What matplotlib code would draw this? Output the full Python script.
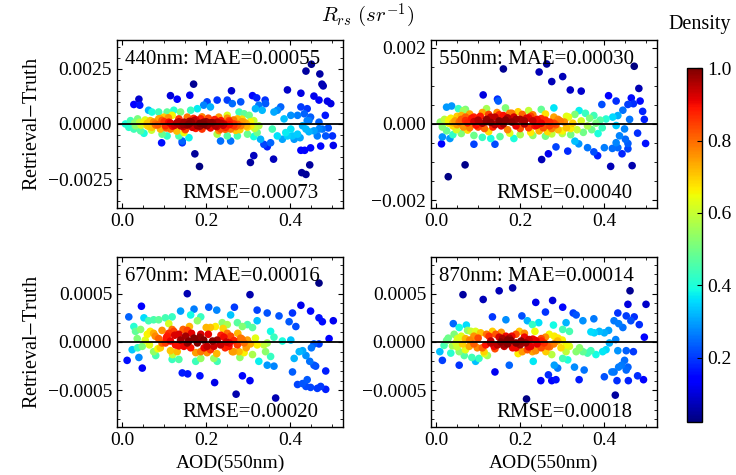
import numpy as np
import matplotlib
matplotlib.use("Agg")
import matplotlib.pyplot as plt
from matplotlib.ticker import AutoMinorLocator
from matplotlib.colors import Normalize

plt.rcParams['font.family'] = ['Liberation Serif', 'DejaVu Serif']
plt.rcParams['mathtext.fontset'] = 'stix'
plt.rcParams['axes.unicode_minus'] = True

bands = ["440nm", "550nm", "670nm", "870nm"]
mae_labels = ["0.00055", "0.00030", "0.00016", "0.00014"]
rmse_labels = ["0.00073", "0.00040", "0.00020", "0.00018"]

# ---------------- 440 nm : AOD, residual (x1e-4) ----------------
aod_440 = [0.040,0.028,0.042,0.094,0.115,0.131,0.170,0.173,0.184,0.161,0.143,0.260,0.310,0.320,0.313,0.305,0.360,0.340,0.393,0.425,0.437,0.450,0.470,0.475,0.478,0.456,0.468,0.488,0.496,0.483,0.440,0.444,0.468,0.490,0.500,0.502,0.427,0.437,0.446,0.425,0.434,0.448,0.472,0.464,0.423,0.405,
           0.008,0.016,0.020,0.028,0.032,0.037,0.044,0.042,0.052,0.063,0.071,
           0.052,0.060,0.067,0.071,0.079,0.087,0.091,0.099,0.103,0.111,0.115,0.119,0.107,0.123,0.095,0.107,0.087,
           0.135,0.139,0.147,0.151,0.155,0.159,0.167,0.171,0.179,0.187,0.190,0.194,0.202,0.139,0.147,0.163,0.179,0.194,0.202,0.210,0.135,0.159,0.143,
           0.222,0.226,0.234,0.242,0.246,0.254,0.258,0.266,0.274,0.282,0.290,0.298,0.230,0.250,0.278,0.290,0.302,0.226,0.250,0.234,0.258,0.274,0.298,0.262,0.282,0.226,0.250,
           0.306,0.313,0.317,0.325,0.333,0.341,0.321,0.329,0.337,0.345,0.353,0.361,0.369,0.377,0.357,0.369,0.381,0.389,0.385,0.313,0.325,
           0.393,0.401,0.409,0.417,0.429,0.437,0.444,0.456,0.468,0.476,0.484,0.417,0.433,0.448,0.401,0.440,0.425,
           0.060,0.080,0.100,0.120,0.130,0.145,0.160,0.175,0.185,0.200,0.210,0.235,0.240,0.255,0.265,0.270,0.285,0.295,0.210,0.220,
           0.030,0.045,0.055,0.065,0.075,0.085,0.095,0.105,0.115,0.125,0.135,0.145,0.155,0.165,0.175,0.185,0.195,0.205,0.215,0.225,0.235,0.245,0.255,0.265,0.275,0.285,0.295,0.305,0.315,0.070,0.110,0.150,0.190,0.230,0.270,0.090,0.130,0.170,0.250,0.280]
res_440 = [11.2,8.8,8.5,-8.5,12.8,11.2,18.0,-13.5,-19.2,13.0,-8.5,15.0,12.8,11.8,-14.3,-17.4,-15.9,10.8,15.4,13.9,23.9,27.0,22.6,18.0,17.2,12.6,10.8,10.3,9.2,3.9,1.5,-3.5,-2.3,-1.8,-5.4,-9.7,-22.0,-22.8,-18.5,-11.9,-11.9,-10.8,-10.0,-5.4,-6.2,-5.4,
           0.0,-1.5,1.5,-2.3,-0.8,2.3,-3.1,0.8,-4.2,6.2,5.4,
           0.8,-0.8,1.5,-1.5,0.0,2.3,-2.3,3.1,-0.8,0.8,-2.3,3.9,5.4,6.2,-4.6,-5.4,5.4,
           2.3,-0.8,0.8,-2.3,3.1,0.0,-1.5,1.5,-0.8,2.3,-2.3,0.8,-0.8,5.4,-3.9,6.2,6.9,8.5,10.0,7.7,-5.4,-6.2,-7.7,
           -0.8,0.8,-2.3,0.0,-1.5,1.5,-2.3,0.0,2.3,-0.8,0.8,-1.5,3.1,3.9,5.4,4.6,3.9,-4.6,-5.4,-7.7,-7.7,-5.4,-4.6,9.2,10.0,10.8,10.8,
           -0.8,1.5,6.9,8.5,6.2,9.2,-3.9,-6.9,-9.2,-10.3,-8.5,5.4,6.2,7.7,-2.3,-5.4,-6.9,-3.9,2.3,-5.7,-0.8,
           -5.4,-2.3,-6.9,-4.6,-0.8,-2.3,1.5,-3.1,0.8,-2.3,-5.4,3.9,4.6,3.1,3.9,6.9,7.7,
           0.3,-0.5,1.0,-1.0,0.5,-0.3,1.2,-2.0,0.3,1.0,-1.8,1.5,-0.6,-0.3,1.8,-1.2,1.0,0.2,0.5,2.0,
           0.5,-0.5,1.8,-1.2,0.9,-0.4,1.6,-1.8,0.4,-0.6,1.0,-1.2,-0.5,0.8,1.9,-1.0,-0.2,2.6,0.6,-1.2,0.3,-2.4,0.9,-0.7,-0.2,2.2,-0.9,1.0,-2.0,-2.8,2.8,-2.6,3.2,-3.0,-2.9,2.4,-3.2,2.5,2.6,-2.6]

# ---------------- 550 nm ----------------
aod_550 = [0.160,0.245,0.263,0.275,0.301,0.319,0.345,0.112,0.148,0.146,0.029,0.069,0.015,0.013,0.025,0.037,0.053,0.033,0.090,0.140,0.130,0.152,0.251,0.267,0.285,0.313,0.339,0.360,0.375,0.384,0.400,0.415,0.419,0.432,0.442,0.456,0.466,0.410,0.428,0.394,0.444,0.456,0.464,0.469,0.482,0.485,0.471,0.491,0.495,0.498,0.479,0.428,0.436,0.450,0.456,0.448,0.420,0.432,0.460,0.404,0.428,
           0.010,0.015,0.020,0.025,0.030,0.035,0.040,0.045,0.050,0.048,0.040,0.060,0.065,
           0.055,0.060,0.065,0.070,0.075,0.080,0.085,0.090,0.095,0.100,0.070,0.090,
           0.105,0.110,0.115,0.120,0.125,0.130,0.135,0.140,0.145,0.150,0.155,0.160,0.165,0.170,0.175,0.180,0.185,0.190,0.195,0.200,0.120,0.165,0.110,0.185,0.200,
           0.205,0.210,0.215,0.220,0.225,0.230,0.235,0.240,0.245,0.250,0.255,0.260,0.265,0.270,0.275,0.280,0.285,0.290,0.295,0.300,0.220,0.250,0.280,0.230,0.260,
           0.305,0.310,0.315,0.320,0.325,0.330,0.335,0.340,0.345,0.350,0.355,0.360,0.365,0.370,0.375,0.380,0.385,0.390,0.330,0.395,
           0.030,0.040,0.050,0.060,0.070,0.080,0.090,0.100,0.110,0.120,0.130,0.140,0.150,0.160,0.170,0.180,0.190,0.200,0.210,0.220,0.230,0.240,0.250,0.260,0.270,0.280,0.290,0.300,0.310,0.320,0.075,0.125,0.175,0.225,0.275]
res_550 = [14.4,13.6,15.7,11.1,12.4,8.9,8.6,7.6,6.0,6.5,-13.8,-10.7,-3.4,-5.2,4.4,4.7,4.0,-3.8,-5.3,-5.3,-3.8,-3.3,-9.3,-7.8,-6.0,-7.1,-5.2,-6.2,-7.3,-8.3,-6.2,-11.1,-6.4,-6.2,-7.8,-6.5,-10.9,7.4,6.0,5.1,3.6,5.1,6.8,5.3,9.3,6.0,15.1,3.3,1.2,-5.1,-2.4,-4.9,-3.1,-4.0,-5.1,-1.3,1.8,2.2,1.2,1.3,-0.4,
           0.5,-0.8,1.2,-1.8,0.2,1.5,-0.5,0.8,2.0,-1.5,-2.8,-2.5,3.5,
           0.5,1.2,-0.8,1.8,0.3,-1.0,1.5,0.6,-0.3,1.0,3.8,-3.0,
           2.0,0.2,-1.2,1.2,2.5,0.4,-0.8,1.8,3.0,0.8,-0.5,2.2,1.0,-1.5,2.8,0.5,1.8,-0.5,3.2,1.2,4.0,4.2,-3.5,-3.8,-2.8,
           2.5,0.0,1.5,-1.0,2.0,0.8,-0.5,1.2,-1.8,0.2,-1.0,1.0,-2.0,0.5,-1.2,1.8,-0.2,-1.5,0.8,-2.5,3.5,3.8,4.2,-3.0,-3.2,
           0.5,-1.0,1.8,-2.8,0.2,2.5,-1.5,3.5,0.8,-2.2,2.8,-0.5,1.5,-1.5,2.2,0.2,-2.5,1.0,-4.5,-1.0,
           1.0,0.3,-0.2,2.2,0.9,2.6,1.8,-0.8,3.0,0.6,1.8,-0.2,2.4,0.0,1.6,2.8,1.2,-1.2,0.8,1.6,2.4,-0.3,1.4,2.6,-0.5,0.2,1.2,-1.8,2.0,-1.2,-1.6,-2.0,-2.4,-2.2,-2.6]

# ---------------- 670 nm ----------------
aod_670 = [0.016,0.012,0.046,0.048,0.155,0.143,0.156,0.185,0.220,0.271,0.304,0.286,0.304,0.365,0.468,0.425,0.448,0.468,0.476,0.502,0.492,0.468,0.456,0.450,0.429,0.437,0.446,0.456,0.460,0.484,0.417,0.429,0.440,0.437,0.448,0.464,0.472,0.484,0.405,0.409,0.421,0.206,0.225,0.267,0.258,0.321,0.345,0.373,0.405,0.397,0.413,0.401,0.381,
           0.028,0.037,0.024,0.040,0.052,0.063,0.075,0.087,0.103,0.111,0.119,0.139,0.163,0.171,0.187,0.179,0.135,0.175,0.187,0.218,0.226,0.202,
           0.032,0.044,0.036,0.048,0.060,0.067,0.079,0.075,0.091,0.103,0.111,0.119,0.119,0.131,0.210,0.222,0.238,0.250,0.274,0.286,0.298,0.310,0.317,0.321,0.290,0.278,0.310,0.337,0.345,0.341,0.353,0.361,0.345,0.325,0.353,0.361,0.321,
           0.087,0.095,0.107,0.115,0.127,0.135,0.139,0.147,0.151,0.159,0.163,0.171,0.179,0.187,0.194,0.202,0.210,0.218,0.226,0.234,0.242,0.248,0.254,0.258,0.266,0.274,0.282,0.290,0.298,0.123,0.155,0.187,0.262,0.250,
           0.055,0.065,0.075,0.085,0.095,0.105,0.115,0.125,0.135,0.145,0.155,0.165,0.175,0.185,0.195,0.205,0.215,0.225,0.235,0.245,0.255,0.265,0.275,0.285,0.295,0.305,0.080,0.120,0.160,0.200,0.240,0.280]
res_670 = [2.6,-1.9,3.7,-2.7,5.0,-3.2,-3.3,-3.5,-4.2,-5.4,4.9,-3.5,-4.0,-5.8,6.1,3.8,3.2,2.5,2.1,2.2,0.35,-0.2,-0.2,-0.6,-0.9,-1.4,-2.0,-2.4,-2.5,-3.0,-4.4,-4.3,-3.9,-4.6,-4.7,-4.8,-4.6,-4.9,-3.1,-1.7,-1.0,3.6,3.3,3.6,2.8,3.3,3.0,2.7,3.0,2.1,1.6,0.2,0.1,
           1.6,-0.6,-0.8,-1.6,2.5,2.2,2.3,2.3,2.5,1.9,2.6,3.2,2.8,3.4,2.6,2.2,-1.8,-2.0,-1.7,-1.7,-2.0,-1.1,
           1.1,1.3,0.35,-0.45,0.8,1.1,0.6,-1.0,-0.6,-0.1,0.9,1.3,-1.8,-1.0,1.5,1.6,2.0,1.8,2.0,1.6,1.8,1.5,0.4,-0.3,-1.1,-1.0,-1.3,-0.3,-0.1,-1.0,-1.5,-2.5,-2.4,-2.0,1.1,0.5,2.2,
           0.35,-0.1,0.6,0.1,-0.3,0.8,0.2,-0.45,0.6,0.1,-0.6,0.4,-0.1,0.8,0.2,-0.45,-0.8,-0.45,0.2,-0.3,0.5,0.0,-0.45,0.6,0.15,-0.3,0.4,-0.1,0.2,1.1,1.2,-1.0,-1.0,0.9,
           0.2,-0.3,0.9,-0.7,1.2,0.4,-0.9,0.7,-0.4,1.3,-0.1,0.9,-1.1,0.5,-0.6,0.8,0.1,-1.2,0.7,-0.6,-0.1,-1.0,0.9,0.3,-0.6,-0.2,-1.4,-1.3,1.6,1.5,1.4,-1.6]

# ---------------- 870 nm ----------------
aod_870 = [0.064,0.112,0.150,0.182,0.237,0.277,0.301,0.260,0.134,0.166,0.204,0.041,0.015,0.055,0.140,0.174,0.215,0.249,0.267,0.275,0.285,0.289,0.340,0.352,0.326,0.333,0.349,0.375,0.400,0.418,0.423,0.426,0.430,0.434,0.441,0.448,0.452,0.457,0.456,0.432,0.452,0.469,0.479,0.493,0.495,0.499,0.461,0.456,0.432,0.452,0.463,0.471,0.483,0.423,0.434,0.444,0.410,0.400,0.388,0.376,0.368,0.412,0.396,0.404,0.427,
           0.009,0.019,0.025,0.029,0.035,0.039,0.043,0.047,0.055,0.072,0.083,0.055,0.067,0.085,0.094,
           0.051,0.063,0.070,0.079,0.090,0.098,0.106,0.114,0.126,0.134,0.142,0.122,0.190,0.198,0.210,0.205,0.217,0.229,0.237,0.250,0.261,0.269,0.281,0.289,0.297,0.309,0.317,0.333,0.341,0.301,0.313,0.349,
           0.217,0.229,0.244,0.279,0.309,0.317,0.301,0.360,0.368,0.380,0.329,0.281,0.231,0.102,0.094,
           0.146,0.154,0.162,0.170,0.178,0.182,0.190,0.174,0.158,0.166,0.138,0.130,0.118,0.202,0.213,0.221,0.237,0.250,0.257,0.265,0.225,
           0.050,0.060,0.070,0.080,0.090,0.100,0.110,0.120,0.130,0.140,0.150,0.160,0.170,0.180,0.190,0.200,0.210,0.220,0.230,0.240,0.250,0.260,0.270,0.280,0.290,0.300,0.310,0.075,0.115,0.155,0.195,0.235,0.275]
res_870 = [4.9,4.4,5.3,5.6,4.1,4.3,3.6,3.1,2.6,2.3,2.7,1.9,-1.9,-2.4,-3.1,-2.4,-5.9,-4.0,-3.4,-4.0,-3.9,-2.7,-3.9,-2.9,3.0,2.8,2.2,2.4,-3.6,-3.1,-3.1,-5.5,-4.0,-2.6,-2.4,-1.9,-2.9,-4.0,-2.6,-0.9,-0.9,-1.0,-3.5,-3.9,0.5,3.9,5.3,3.9,3.0,2.7,2.2,2.6,1.8,2.2,1.9,1.5,1.2,0.95,1.1,0.95,1.05,-0.1,-1.0,-0.8,0.25,
           -1.0,-0.35,0.15,0.4,-1.15,-0.4,0.8,-0.1,1.5,1.75,1.1,-1.0,-1.4,-1.6,-2.0,
           0.35,-0.2,0.35,-0.45,0.6,-0.6,0.95,-1.0,0.6,1.1,0.8,-1.4,0.8,1.1,0.5,-1.0,-0.8,-1.0,-0.9,-0.6,-1.0,0.8,0.6,0.1,-0.6,-1.0,-0.45,-1.0,-0.6,-1.7,-1.85,-1.0,
           2.2,1.8,2.0,1.75,2.0,1.1,1.3,-1.15,-0.9,-1.3,-2.6,-2.4,-2.0,-1.7,1.1,
           -0.3,0.0,-0.45,-0.2,0.15,-0.6,-0.1,0.4,0.35,0.6,-0.45,-0.1,-0.3,0.1,-0.1,0.25,0.15,0.35,-0.1,-0.45,-0.45,
           -0.5,0.6,-0.8,0.2,-0.2,0.4,-0.6,0.8,0.1,-0.7,0.5,-0.3,0.2,0.6,-0.6,-0.3,0.9,-0.5,0.3,-0.2,0.1,0.5,-0.5,-0.2,0.4,0.2,-0.3,1.2,-1.2,1.0,-1.2,1.1,-1.3]

aods = [aod_440, aod_550, aod_670, aod_870]
residuals = [res_440, res_550, res_670, res_870]
residual_scale = 1e-4
ylims = [0.0038, 0.0022, 0.00088, 0.00088]
yticks = [[-0.0025, 0.0, 0.0025], [-0.002, 0.0, 0.002], [-0.0005, 0.0, 0.0005], [-0.0005, 0.0, 0.0005]]


def density(x, y, bw=1.15):
    data = np.vstack([x, y])
    n = data.shape[1]
    cov = np.cov(data) * (bw * n ** (-1.0 / 6.0)) ** 2
    inv = np.linalg.inv(cov)
    diff = (data[:, :, None] - data[:, None, :]).reshape(2, -1)
    q = np.sum(diff * (inv @ diff), axis=0).reshape(n, n)
    z = np.exp(-0.5 * q).sum(axis=1)
    return z / z.max()


fig = plt.figure(figsize=(7.36, 4.75), dpi=100)
positions = [[0.159, 0.562, 0.307, 0.354],
             [0.5856, 0.562, 0.307, 0.354],
             [0.159, 0.101, 0.307, 0.358],
             [0.5856, 0.101, 0.307, 0.358]]
norm = Normalize(vmin=0.023, vmax=1.0)
cmap = plt.get_cmap('jet')

sc = None
for i in range(4):
    ax = fig.add_axes(positions[i])
    x = np.array(aods[i])
    y = np.array(residuals[i]) * residual_scale
    z = density(x, y)
    order = np.argsort(z)
    sc = ax.scatter(x[order], y[order], c=z[order], cmap=cmap, norm=norm, s=30,
                    edgecolors='none', zorder=2)
    ax.axhline(0, color='black', lw=1.3, zorder=3)
    ax.set_xlim(-0.012, 0.525)
    ax.set_ylim(-ylims[i], ylims[i])
    ax.set_xticks([0.0, 0.2, 0.4])
    ax.set_yticks(yticks[i])
    ax.xaxis.set_minor_locator(AutoMinorLocator())
    ax.yaxis.set_minor_locator(AutoMinorLocator())
    ax.tick_params(which='both', direction='in', top=True, right=True, labelsize=14)
    ax.tick_params(which='major', length=3.5, width=0.8)
    ax.tick_params(which='minor', length=2, width=0.6)
    for sp in ax.spines.values():
        sp.set_linewidth(1.0)
    ax.text(0.035, 0.94, f"{bands[i]}: MAE={mae_labels[i]}", transform=ax.transAxes,
            ha='left', va='top', fontsize=15)
    ax.text(0.29, 0.03, f"RMSE={rmse_labels[i]}", transform=ax.transAxes,
            ha='left', va='bottom', fontsize=15)
    if i % 2 == 0:
        ax.set_ylabel(r"Retrieval$-$Truth", fontsize=14.5)
    if i >= 2:
        ax.set_xlabel("AOD(550nm)", fontsize=14)

cax = fig.add_axes([0.9334, 0.1116, 0.0204, 0.745])
cb = fig.colorbar(sc, cax=cax)
cb.set_ticks([0.2, 0.4, 0.6, 0.8, 1.0])
cb.ax.tick_params(direction='in', labelsize=14, length=3.5, width=0.8)
cb.outline.set_linewidth(1.0)
fig.text(700 / 736, 1 - 24 / 475, "Density", ha='center', va='center', fontsize=14.5)
fig.text(0.5, 1 - 16 / 475, r"$R_{rs}\ (sr^{-1})$", ha='center', va='center',
         fontsize=15, math_fontfamily='cm')

fig.savefig("out.png", dpi=100)
